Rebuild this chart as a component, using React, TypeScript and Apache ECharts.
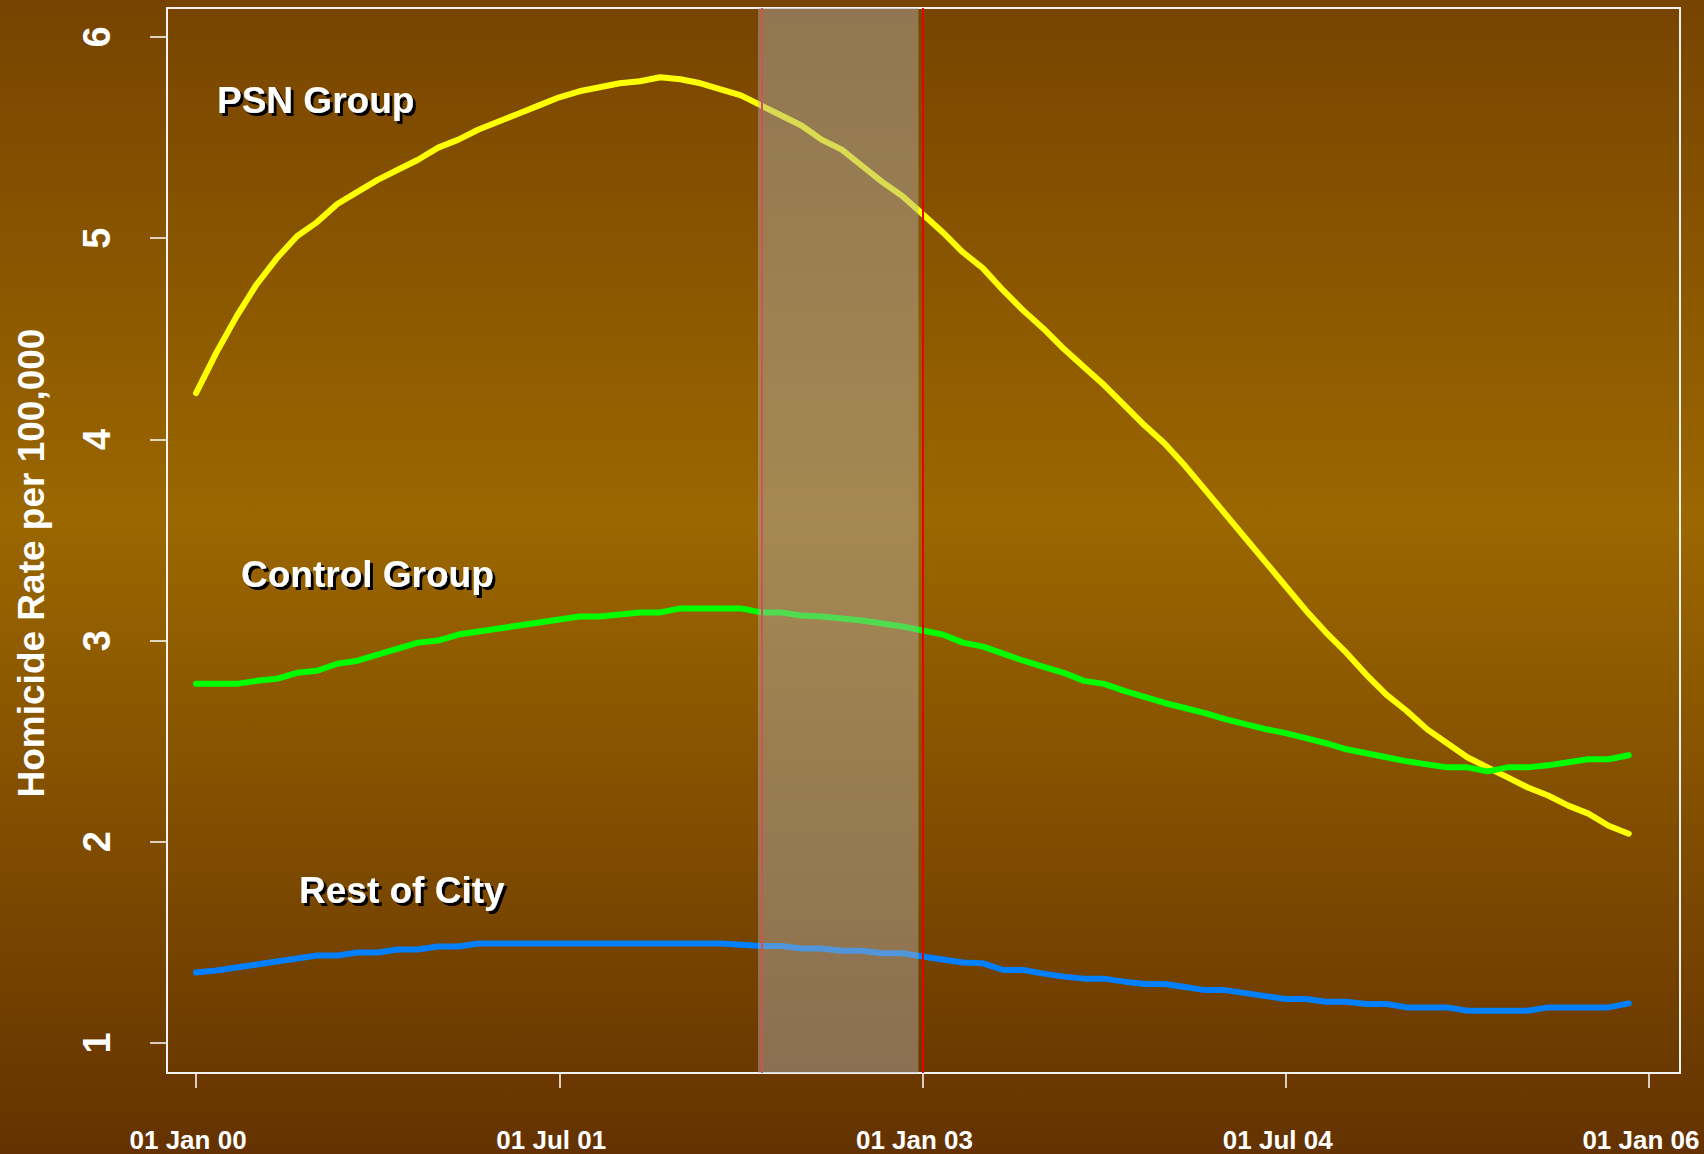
import React, { useEffect, useRef } from "react";
import * as echarts from "echarts";

// Monthly index: 0 = Jan 2000 ... 71 = Dec 2005
const monthIndex = Array.from({ length: 72 }, (_, i) => i);

const psnGroup = [
  4.23, 4.43, 4.61, 4.77, 4.9, 5.01, 5.08, 5.17, 5.23, 5.29, 5.34, 5.39,
  5.45, 5.49, 5.54, 5.58, 5.62, 5.66, 5.7, 5.73, 5.75, 5.77, 5.78, 5.8,
  5.79, 5.77, 5.74, 5.71, 5.66, 5.61, 5.56, 5.49, 5.44, 5.36, 5.28, 5.21,
  5.12, 5.03, 4.93, 4.85, 4.74, 4.64, 4.55, 4.45, 4.36, 4.27, 4.17, 4.07,
  3.98, 3.87, 3.75, 3.63, 3.51, 3.39, 3.27, 3.15, 3.04, 2.94, 2.83, 2.73,
  2.65, 2.56, 2.49, 2.42, 2.37, 2.32, 2.27, 2.23, 2.18, 2.14, 2.08, 2.04,
];

const controlGroup = [
  2.785, 2.785, 2.785, 2.8, 2.81, 2.84, 2.85, 2.885, 2.9, 2.93, 2.96, 2.99,
  3.0, 3.03, 3.045, 3.06, 3.075, 3.09, 3.105, 3.12, 3.12, 3.13, 3.14, 3.14,
  3.16, 3.16, 3.16, 3.16, 3.14, 3.14, 3.125, 3.12, 3.11, 3.1, 3.085, 3.07,
  3.05, 3.03, 2.99, 2.97, 2.935, 2.9, 2.87, 2.84, 2.8, 2.785, 2.75, 2.72,
  2.69, 2.665, 2.64, 2.61, 2.585, 2.56, 2.54, 2.515, 2.49, 2.46, 2.44, 2.42,
  2.4, 2.385, 2.37, 2.37, 2.35, 2.37, 2.37, 2.38, 2.395, 2.41, 2.41, 2.43,
];

const restOfCity = [
  1.35, 1.36, 1.375, 1.39, 1.405, 1.42, 1.435, 1.435, 1.45, 1.45, 1.465, 1.465,
  1.48, 1.48, 1.495, 1.495, 1.495, 1.495, 1.495, 1.495, 1.495, 1.495, 1.495, 1.495,
  1.495, 1.495, 1.495, 1.488, 1.482, 1.482, 1.47, 1.47, 1.459, 1.459, 1.446, 1.446,
  1.43, 1.415, 1.4, 1.396, 1.363, 1.363, 1.345, 1.33, 1.32, 1.32, 1.305, 1.293,
  1.293, 1.278, 1.263, 1.263, 1.248, 1.233, 1.219, 1.219, 1.205, 1.205, 1.194, 1.194,
  1.177, 1.177, 1.177, 1.16, 1.16, 1.16, 1.16, 1.177, 1.177, 1.177, 1.177, 1.197,
];

const tickMonths = [0, 18, 36, 54, 72];
const tickLabels = ["01 Jan 00", "01 Jul 01", "01 Jan 03", "01 Jul 04", "01 Jan 06"];
const yTicks = [1, 2, 3, 4, 5, 6];
const interventionLines = [28.05, 36];
const shadedPeriod = [27.85, 35.8];
const groupLabels = ["PSN Group", "Control Group", "Rest of City"];
const yTitle = "Homicide Rate per 100,000";

const FONT = 'Arial, "Liberation Sans", Helvetica, sans-serif';

export default function App() {
  const ref = useRef<HTMLDivElement>(null);

  useEffect(() => {
    if (!ref.current) return;
    const chart = echarts.init(ref.current, undefined, { renderer: "svg" });

    const toPairs = (vals: number[]) => monthIndex.map((m, i) => [m, vals[i]]);
    const lineSeries = (name: string, vals: number[], color: string) => ({
      name,
      type: "line",
      data: toPairs(vals),
      showSymbol: false,
      symbol: "none",
      z: 2,
      lineStyle: { color, width: 6, cap: "round", join: "round" },
    });

    const labelStyle = {
      fill: "#ffffff",
      font: `bold 37px ${FONT}`,
      textAlign: "left",
      textVerticalAlign: "middle",
      textShadowColor: "#000000",
      textShadowOffsetX: 3,
      textShadowOffsetY: 3,
      textShadowBlur: 1,
    };

    chart.setOption({
      animation: false,
      backgroundColor: {
        type: "linear",
        x: 0,
        y: 0,
        x2: 0,
        y2: 1,
        colorStops: [
          { offset: 0, color: "#774400" },
          { offset: 0.45, color: "#9b6700" },
          { offset: 1, color: "#643200" },
        ],
      },
      grid: {
        left: 167,
        top: 8,
        right: 24,
        bottom: 81,
        show: true,
        borderColor: "#f2f2f2",
        borderWidth: 2,
        backgroundColor: "transparent",
      },
      xAxis: {
        type: "value",
        min: -1.44,
        max: 73.54,
        axisLine: { show: false, onZero: false },
        splitLine: { show: false },
        axisTick: {
          show: true,
          inside: false,
          length: 15,
          customValues: tickMonths,
          lineStyle: { color: "#ffffff", width: 1.5 },
        },
        axisLabel: {
          show: true,
          customValues: tickMonths,
          margin: 54,
          color: "#ffffff",
          fontSize: 26,
          fontWeight: "bold",
          fontFamily: FONT,
          padding: [0, 16, 0, 0],
          formatter: (v: number) => {
            const i = tickMonths.indexOf(Math.round(v));
            return i >= 0 ? tickLabels[i] : "";
          },
        },
      },
      yAxis: {
        type: "value",
        min: 0.851,
        max: 6.144,
        axisLine: { show: false, onZero: false },
        splitLine: { show: false },
        axisTick: {
          show: true,
          inside: false,
          length: 17,
          customValues: yTicks,
          lineStyle: { color: "#ffffff", width: 1.5 },
        },
        axisLabel: {
          show: true,
          customValues: yTicks,
          rotate: 90,
          margin: 51,
          color: "#ffffff",
          fontSize: 38,
          fontWeight: "bold",
          fontFamily: FONT,
          formatter: (v: number) => String(Math.round(v)),
        },
      },
      series: [
        lineSeries(groupLabels[0], psnGroup, "#ffff00"),
        lineSeries(groupLabels[1], controlGroup, "#00ff00"),
        lineSeries(groupLabels[2], restOfCity, "#0080ff"),
        {
          type: "line",
          data: [],
          z: 3,
          markLine: {
            silent: true,
            symbol: "none",
            z: 3,
            label: { show: false },
            lineStyle: { color: "#ee0000", width: 2, type: "solid" },
            data: interventionLines.map((m) => ({ xAxis: m })),
          },
        },
        {
          type: "line",
          data: [],
          z: 10,
          markArea: {
            silent: true,
            z: 10,
            itemStyle: { color: "rgba(176,176,176,0.46)" },
            data: [
              [
                { coord: [shadedPeriod[0], 0.821] },
                { coord: [shadedPeriod[1], 6.144] },
              ],
            ],
          },
        },
      ],
      graphic: [
        {
          type: "text",
          x: 217,
          y: 100,
          z: 20,
          style: { ...labelStyle, text: groupLabels[0] },
        },
        {
          type: "text",
          x: 241,
          y: 574,
          z: 20,
          style: { ...labelStyle, text: groupLabels[1] },
        },
        {
          type: "text",
          x: 299,
          y: 890,
          z: 20,
          style: { ...labelStyle, text: groupLabels[2] },
        },
        {
          type: "text",
          x: 31,
          y: 563,
          rotation: Math.PI / 2,
          z: 20,
          style: {
            text: yTitle,
            fill: "#ffffff",
            font: `bold 37px ${FONT}`,
            textAlign: "center",
            textVerticalAlign: "middle",
          },
        },
      ],
    });

    return () => chart.dispose();
  }, []);

  return (
    <div
      ref={ref}
      style={{ position: "fixed", left: 0, top: 0, width: 1704, height: 1154 }}
    />
  );
}
